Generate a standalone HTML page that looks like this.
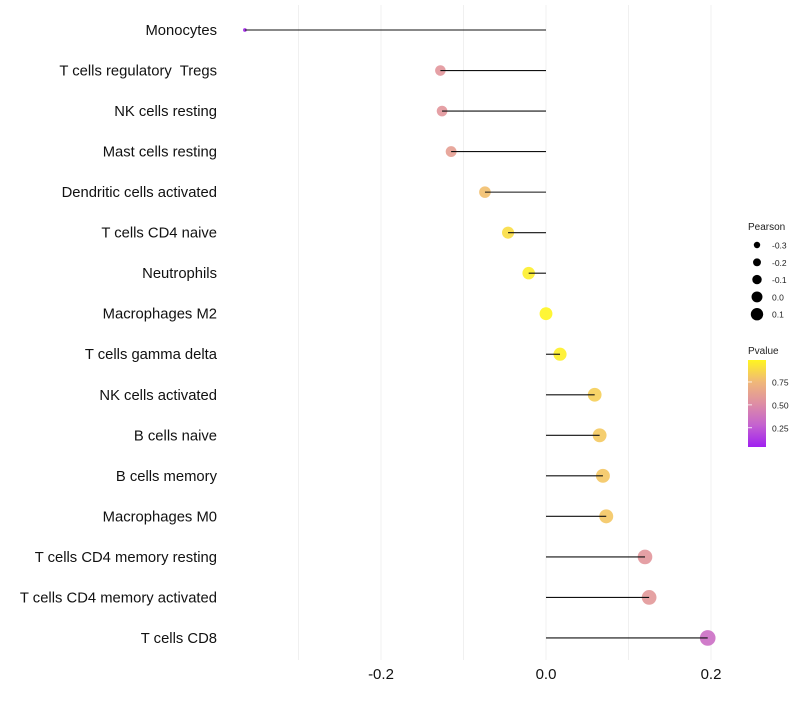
<!DOCTYPE html>
<html><head><meta charset="utf-8"><style>
body{margin:0;background:#fff;font-family:"Liberation Sans",sans-serif;}
svg text{font-family:"Liberation Sans",sans-serif;white-space:pre;}
</style></head><body>
<svg id="chart" width="800" height="700" viewBox="0 0 800 700">
<defs><linearGradient id="pg" x1="0" y1="1" x2="0" y2="0">
<stop offset="0" stop-color="#a020f0"/><stop offset="0.25" stop-color="#c462d0"/><stop offset="0.5" stop-color="#de8ea4"/><stop offset="0.75" stop-color="#f0b878"/><stop offset="1" stop-color="#fff520"/></linearGradient></defs>
<g id="grid"></g><g id="marks"></g><g id="labels"></g>
<g>
<text x="748" y="230" font-size="10" fill="#222">Pearson</text>
<g id="sizeleg"></g></g>
<g>
<text x="748" y="354" font-size="10" fill="#222">Pvalue</text>
<rect x="748" y="360" width="18" height="87" fill="url(#pg)"/>
<g id="colleg"></g></g>
</svg>
<script>
const cells=["Monocytes","T cells regulatory  Tregs","NK cells resting","Mast cells resting","Dendritic cells activated","T cells CD4 naive","Neutrophils","Macrophages M2","T cells gamma delta","NK cells activated","B cells naive","B cells memory","Macrophages M0","T cells CD4 memory resting","T cells CD4 memory activated","T cells CD8"];
const pearson=[-0.365,-0.128,-0.126,-0.115,-0.074,-0.046,-0.021,0.0,0.017,0.059,0.065,0.069,0.073,0.12,0.125,0.196];
const pvalue=[0.03,0.55,0.55,0.6,0.78,0.9,0.97,1.0,0.98,0.84,0.82,0.81,0.81,0.55,0.56,0.32];
const xTicks=[-0.2,0.0,0.2];
const xTickLabels=["-0.2","0.0","0.2"];
const sizeLegVals=[-0.3,-0.2,-0.1,0.0,0.1];
const colLegVals=[0.25,0.5,0.75];

const NS="http://www.w3.org/2000/svg";
const x=v=>546+v*825;
const y=i=>30+i*40.53;
const vmin=Math.min(...pearson),vmax=Math.max(...pearson);
const r=v=>Math.sqrt(3.5+(v-vmin)/(vmax-vmin)*58);
const stops=[[0,[160,32,240]],[0.25,[196,98,208]],[0.5,[222,142,164]],[0.75,[240,184,120]],[1,[255,245,32]]];
function col(p){for(let k=1;k<stops.length;k++){if(p<=stops[k][0]){const a=stops[k-1],b=stops[k];const t=(p-a[0])/(b[0]-a[0]);return "rgb("+a[1].map((c,j)=>Math.round(c+(b[1][j]-c)*t)).join(",")+")";}}return "rgb(255,245,32)";}
function mk(tag,at,par){const e=document.createElementNS(NS,tag);for(const k in at)e.setAttribute(k,at[k]);document.getElementById(par).appendChild(e);return e;}
[-0.3,-0.2,-0.1,0,0.1,0.2].forEach(v=>{const l=mk('line',{x1:x(v),x2:x(v),y1:5,y2:660,stroke:'#f0f0f0','stroke-width':1},'grid');

});
xTicks.forEach((v,i)=>{const t=mk('text',{x:x(v),y:679,'font-size':15,'text-anchor':'middle',fill:'#111'},'labels');t.textContent=xTickLabels[i];

});
cells.forEach((c,i)=>{
const t=mk('text',{x:217,y:y(i)+5,'font-size':14.8,'text-anchor':'end',fill:'#111'},'labels');t.textContent=c;


const cc=mk('circle',{cx:x(pearson[i]),cy:y(i),r:r(pearson[i]),fill:col(pvalue[i]),'fill-opacity':0.9},'marks');


const l=mk('line',{x1:x(0),x2:x(pearson[i]),y1:y(i),y2:y(i),stroke:'#111','stroke-width':1.1},'marks');


});
sizeLegVals.forEach((v,i)=>{const yy=245+i*17.3;
const c=mk('circle',{cx:757,cy:yy,r:3.2+i*0.75,fill:'#000'},'sizeleg');


const t=mk('text',{x:772,y:yy+3.5,'font-size':8.5,fill:'#222'},'sizeleg');t.textContent=v.toFixed(1);

});
colLegVals.forEach(p=>{const yy=447-(p-0.04)/0.95*87;
const t=mk('text',{x:772,y:yy+3.5,'font-size':8.5,fill:'#222'},'colleg');t.textContent=p.toFixed(2);


const l=mk('line',{x1:748,x2:752,y1:yy,y2:yy,stroke:'#fff','stroke-width':0.8},'colleg');

});
</script>
</body></html>
